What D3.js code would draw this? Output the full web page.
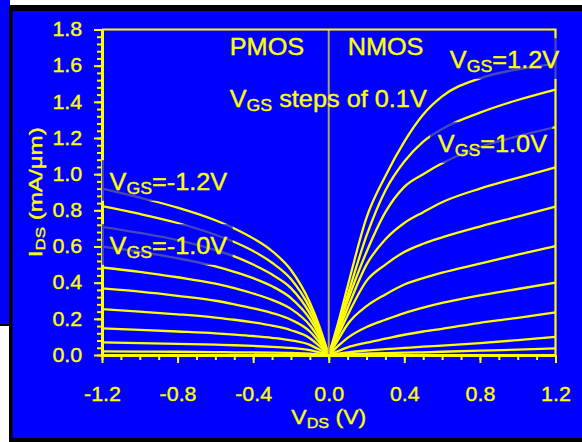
<!DOCTYPE html>
<html>
<head>
<meta charset="utf-8">
<script src="https://cdn.jsdelivr.net/npm/d3@7"></script>
<style>
  html, body { margin: 0; padding: 0; background: #fff; }
  svg { display: block; }
</style>
</head>
<body>
<script>
// drain current curves, Ids in mA/um
const vdsN = [0, 0.05, 0.1, 0.2, 0.3, 0.4, 0.5, 0.6, 0.8, 1.0, 1.2];
const nmosVgs = [1.2, 1.1, 1.0, 0.9, 0.8, 0.7, 0.6, 0.5, 0.4, 0.3];
const nmosIds = [
  [0, 0.18, 0.38, 0.76, 0.99, 1.18, 1.33, 1.43, 1.53, 1.58, 1.61],
  [0, 0.16, 0.33, 0.66, 0.91, 1.07, 1.18, 1.25, 1.34, 1.41, 1.468],
  [0, 0.15, 0.30, 0.57, 0.79, 0.93, 1.00, 1.06, 1.15, 1.21, 1.26],
  [0, 0.13, 0.26, 0.50, 0.64, 0.73, 0.79, 0.845, 0.92, 0.98, 1.037],
  [0, 0.11, 0.22, 0.41, 0.50, 0.57, 0.615, 0.65, 0.71, 0.765, 0.82],
  [0, 0.085, 0.17, 0.27, 0.335, 0.39, 0.425, 0.455, 0.505, 0.555, 0.602],
  [0, 0.05, 0.095, 0.155, 0.195, 0.232, 0.262, 0.288, 0.33, 0.365, 0.40],
  [0, 0.022, 0.042, 0.068, 0.09, 0.112, 0.13, 0.145, 0.178, 0.205, 0.236],
  [0, 0.008, 0.015, 0.025, 0.032, 0.039, 0.046, 0.052, 0.066, 0.082, 0.10],
  [0, 0.003, 0.005, 0.008, 0.01, 0.013, 0.015, 0.018, 0.024, 0.03, 0.037]
];

const vdsP = [-1.2, -1.0, -0.8, -0.6, -0.5, -0.4, -0.3, -0.2, -0.1, -0.05, 0];
const pmosVgs = [-1.2, -1.1, -1.0, -0.9, -0.8, -0.7, -0.6, -0.5, -0.4, -0.3];
const pmosIds = [
  [0.92, 0.87, 0.815, 0.745, 0.70, 0.645, 0.575, 0.47, 0.29, 0.16, 0],
  [0.823, 0.78, 0.73, 0.665, 0.625, 0.575, 0.51, 0.42, 0.26, 0.145, 0],
  [0.709, 0.675, 0.635, 0.58, 0.545, 0.50, 0.445, 0.37, 0.23, 0.125, 0],
  [0.60, 0.57, 0.535, 0.49, 0.46, 0.425, 0.38, 0.315, 0.20, 0.11, 0],
  [0.484, 0.46, 0.43, 0.395, 0.37, 0.34, 0.305, 0.255, 0.165, 0.09, 0],
  [0.368, 0.35, 0.327, 0.30, 0.28, 0.258, 0.232, 0.195, 0.13, 0.07, 0],
  [0.254, 0.24, 0.225, 0.207, 0.195, 0.18, 0.162, 0.137, 0.093, 0.05, 0],
  [0.147, 0.139, 0.13, 0.12, 0.113, 0.105, 0.095, 0.081, 0.056, 0.03, 0],
  [0.07, 0.066, 0.062, 0.057, 0.054, 0.05, 0.045, 0.039, 0.027, 0.015, 0],
  [0.02, 0.019, 0.018, 0.016, 0.015, 0.014, 0.013, 0.011, 0.008, 0.004, 0]
];

const xTicks = [-1.2, -0.8, -0.4, 0, 0.4, 0.8, 1.2];
const yTicks = [0, 0.2, 0.4, 0.6, 0.8, 1.0, 1.2, 1.4, 1.6, 1.8];

const W = 582, H = 442;
const YEL = "#ffff00", BLUE = "#0000ff";
const FONT = "'Liberation Sans', Arial, Helvetica, sans-serif";
const SX = 1.1; // the picture is a bit stretched sideways

const svg = d3.select("body").append("svg")
  .attr("width", W).attr("height", H);

// frame: window behind and the panel
svg.append("rect").attr("x", 0).attr("y", 0).attr("width", W).attr("height", H).attr("fill", "#fff");
svg.append("rect").attr("x", 0).attr("y", 0).attr("width", 10).attr("height", 326).attr("fill", BLUE);
svg.append("rect").attr("x", 0).attr("y", 324).attr("width", 10).attr("height", 2).attr("fill", "#000");
svg.append("rect").attr("x", 9).attr("y", 5).attr("width", W - 9).attr("height", H - 5).attr("fill", "#000");
svg.append("rect").attr("x", 12.5).attr("y", 11).attr("width", W - 12.5).attr("height", 427).attr("fill", BLUE);

const x = d3.scaleLinear().domain([-1.2, 1.2]).range([102, 555.5]);
const y = d3.scaleLinear().domain([0, 1.8]).range([355, 29.5]);

svg.append("clipPath").attr("id", "plot")
  .append("rect").attr("x", x(-1.2)).attr("y", y(1.8)).attr("width", x(1.2) - x(-1.2)).attr("height", y(0) - y(1.8));

const line = d3.line().curve(d3.curveMonotoneX);

const curves = svg.append("g").attr("clip-path", "url(#plot)");
curves.selectAll(".n").data(nmosIds).enter().append("path")
  .attr("class", "n")
  .attr("d", d => line(d.map((v, i) => [x(vdsN[i]), y(v)])))
  .attr("fill", "none").attr("stroke", YEL).attr("stroke-width", 2.3);
curves.selectAll(".p").data(pmosIds).enter().append("path")
  .attr("class", "p")
  .attr("d", d => line(d.map((v, i) => [x(vdsP[i]), y(v)])))
  .attr("fill", "none").attr("stroke", YEL).attr("stroke-width", 2.3);

// centre divider
svg.append("line")
  .attr("x1", x(0)).attr("x2", x(0)).attr("y1", y(1.8)).attr("y2", y(0))
  .attr("stroke", "#aaa466").attr("stroke-width", 2);

// frame lines top and right
svg.append("path")
  .attr("d", `M${x(-1.2)},${y(1.8)}H${x(1.2)}V${y(0)}`)
  .attr("fill", "none").attr("stroke", YEL).attr("stroke-width", 2.2);

function styleAxis(g) {
  g.selectAll("path.domain").attr("stroke", YEL).attr("stroke-width", 3);
  g.selectAll(".tick line").attr("stroke", YEL).attr("stroke-width", 2);
  g.selectAll(".tick text").attr("fill", YEL).attr("font-family", FONT).attr("font-size", 19.5)
    .attr("stroke", YEL).attr("stroke-width", 0.35);
}

// x axis
svg.append("g").attr("transform", `translate(0,${y(0)})`)
  .call(d3.axisBottom(x).tickValues(d3.range(-12, 13).map(d => d / 10)).tickSize(5).tickSizeOuter(0).tickFormat(""))
  .call(styleAxis);
svg.append("g").attr("transform", `translate(0,${y(0)})`)
  .call(d3.axisBottom(x).tickValues(xTicks).tickSize(8).tickSizeOuter(0).tickFormat(d => d.toFixed(1)))
  .call(styleAxis)
  .call(g => g.selectAll(".tick text").attr("y", 46).attr("dy", 0).attr("transform", `scale(${SX},1)`));

// y axis
svg.append("g").attr("transform", `translate(${x(-1.2)},0)`)
  .call(d3.axisLeft(y).tickValues(d3.range(0, 46).map(d => d * 0.04)).tickSize(5).tickSizeOuter(0).tickFormat(""))
  .call(styleAxis);
svg.append("g").attr("transform", `translate(${x(-1.2)},0)`)
  .call(d3.axisLeft(y).tickValues(yTicks).tickSize(8).tickSizeOuter(0).tickFormat(d => d.toFixed(1)))
  .call(styleAxis)
  .call(g => g.selectAll(".tick text").attr("x", -18).attr("transform", `scale(${SX},1)`));

// text with subscripts, optional see-through box behind it
function label(px, py, parts, size, opts) {
  opts = opts || {};
  const g = svg.append("g")
    .attr("transform", `translate(${px},${py}) ${opts.rotate ? "rotate(-90)" : ""} scale(${opts.sx || SX},${opts.sy || 1})`);
  const t = g.append("text")
    .attr("fill", YEL).attr("stroke", YEL).attr("stroke-width", 0.35)
    .attr("font-family", FONT).attr("font-size", size)
    .attr("text-anchor", opts.anchor || "start");
  const shift = size * 0.17;
  let sub = false;
  parts.forEach(p => {
    const isSub = p[1] === 1;
    t.append("tspan")
      .attr("font-size", isSub ? size * 0.7 : size)
      .attr("dy", isSub && !sub ? shift : (!isSub && sub ? -shift : 0))
      .text(p[0]);
    sub = isSub;
  });
  if (opts.box) {
    const b = t.node().getBBox();
    g.insert("rect", "text")
      .attr("x", b.x - 7).attr("y", b.y - 9)
      .attr("width", b.width + 12).attr("height", b.height + 12)
      .attr("fill", BLUE).attr("opacity", 0.72);
  }
  return g;
}

label(x(-0.524), y(1.657), [["PMOS"]], 23);
label(x(0.10), y(1.657), [["NMOS"]], 23);
label(x(-0.524), y(1.37), [["V"], ["GS", 1], [" steps of 0.1V"]], 23);
label(x(0.641), y(1.586), [["V"], ["GS", 1], ["=1.2V"]], 23, { box: true });
label(x(0.577), y(1.122), [["V"], ["GS", 1], ["=1.0V"]], 23, { box: true });
label(x(-1.16), y(0.912), [["V"], ["GS", 1], ["=-1.2V"]], 23, { box: true });
label(x(-1.16), y(0.558), [["V"], ["GS", 1], ["=-1.0V"]], 23, { box: true });

// axis titles
label(x(0), 424, [["V"], ["DS", 1], [" (V)"]], 21, { anchor: "middle" });
label(42, (y(0) + y(1.8)) / 2, [["I"], ["DS", 1], [" (mA/\u03bcm)"]], 17,
  { anchor: "middle", rotate: true, sx: 1.42, sy: 1.1 });
</script>
</body>
</html>
